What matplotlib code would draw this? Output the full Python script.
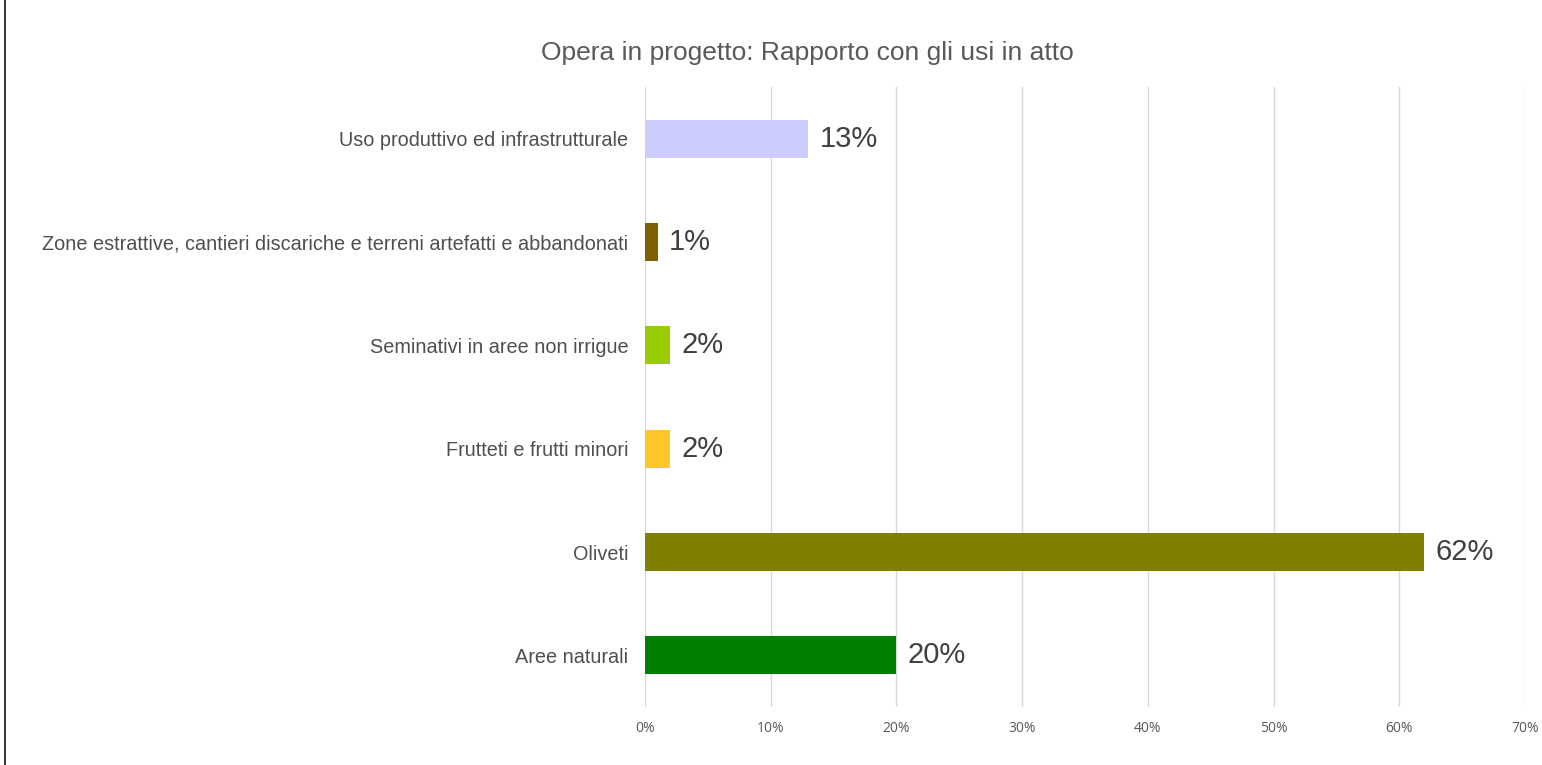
import matplotlib
matplotlib.use("Agg")
import matplotlib.pyplot as plt
from matplotlib.lines import Line2D

categories = [
    "Uso produttivo ed infrastrutturale",
    "Zone estrattive, cantieri discariche e terreni artefatti e abbandonati",
    "Seminativi in aree non irrigue",
    "Frutteti e frutti minori",
    "Oliveti",
    "Aree naturali",
]
values = [13, 1, 2, 2, 62, 20]
colors = ["#CCCCFF", "#7F6000", "#99CC00", "#FFC629", "#808000", "#008000"]
xticks = [0, 10, 20, 30, 40, 50, 60, 70]
title = "Opera in progetto: Rapporto con gli usi in atto"

plt.rcParams['font.family'] = ['Liberation Sans', 'DejaVu Sans']

fig = plt.figure(figsize=(15.42, 7.65), dpi=100)
ax = fig.add_axes([645/1542, 1 - 707/765, (1525-645)/1542, (707-87)/765])

ypos = list(range(len(categories)))
ax.barh(ypos, values, height=0.37, color=colors, zorder=3)
for y, v in zip(ypos, values):
    ax.text(v + 0.9, y, f"{v}%", va="center", ha="left", fontsize=21, color="#404040")

ax.set_ylim(len(categories) - 0.5, -0.5)
ax.set_xlim(0, 70)
ax.set_yticks(ypos)
ax.set_yticklabels(categories, fontsize=14.3, color="#4F4F4F")
ax.set_xticks(xticks)
ax.set_xticklabels([f"{t}%" for t in xticks], fontsize=10, color="#595959",
                   fontfamily=["Open Sans", "DejaVu Sans"])
ax.tick_params(axis="both", length=0)
ax.tick_params(axis="x", pad=10)
ax.tick_params(axis="y", pad=12)
ax.grid(axis="x", color="#D9D9D9", linewidth=1, zorder=0)
for s in ax.spines.values():
    s.set_visible(False)

fig.text(807/1542, 1 - 53/765, title, ha="center", va="center", fontsize=19, color="#595959")
fig.add_artist(Line2D([4.5/1542, 4.5/1542], [0, 1], color="#111111", linewidth=1.2, transform=fig.transFigure))

fig.savefig("out.png", dpi=100)
